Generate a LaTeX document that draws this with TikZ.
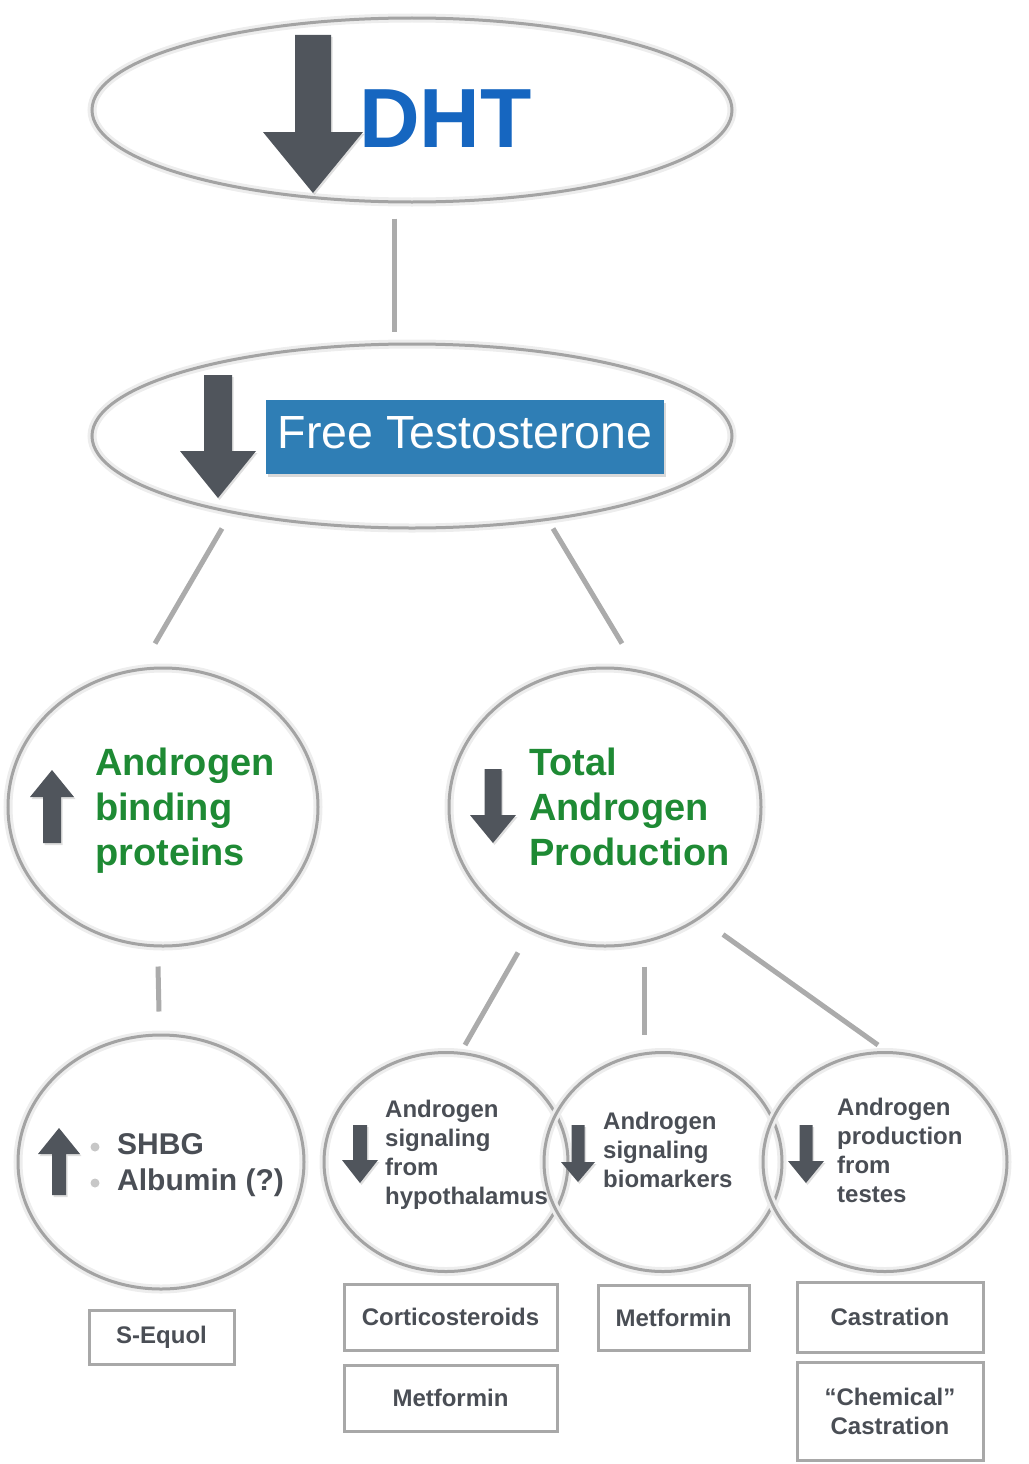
\documentclass[tikz,border=0pt]{standalone}
\usepackage{fontspec}
\setmainfont{Liberation Sans}
\usepackage{tikz}
\usetikzlibrary{shapes.geometric, shadows, positioning}

\definecolor{arrowgray}{RGB}{80,85,92}
\definecolor{txtgray}{RGB}{74,78,85}
\definecolor{apgreen}{RGB}{30,138,52}
\definecolor{dhtblue}{RGB}{22,102,192}
\definecolor{ftblue}{RGB}{47,126,181}
\definecolor{ringgray}{RGB}{163,163,163}
\definecolor{linkgray}{RGB}{171,171,171}
\definecolor{boxgray}{RGB}{168,168,168}

\tikzset{
  bubble/.style={ellipse, draw=ringgray, line width=3pt, inner sep=0pt,
    preaction={draw=black!7, line width=9pt}},
  link/.style={draw=linkgray, line width=5pt},
  drugbox/.style={rectangle, draw=boxgray, line width=3pt, inner sep=0pt,
    font=\fontsize{24}{29}\selectfont\bfseries, text=txtgray, align=center},
  greentext/.style={font=\fontsize{38}{45}\selectfont\bfseries, text=apgreen,
    align=left, inner sep=0pt, anchor=north west},
  graytext/.style={font=\fontsize{24}{29}\selectfont\bfseries, text=txtgray,
    align=left, inner sep=0pt, anchor=north west},
  arrowshadow/.style={drop shadow={opacity=0.25, shadow xshift=1.5pt, shadow yshift=-2pt}}
}

% x, tail y, head base y, tip y, half shaft, half head
\newcommand{\blockarrow}[6]{%
  \fill[arrowgray, arrowshadow] (#1-#5,#2) -- (#1+#5,#2) -- (#1+#5,#3) -- (#1+#6,#3)
    -- (#1,#4) -- (#1-#6,#3) -- (#1-#5,#3) -- cycle;}

\begin{document}
\begin{tikzpicture}[x=1pt,y=-1pt]
            \useasboundingbox (0,0) rectangle (1028,1464);
            % circles and ellipses
            \node[bubble, minimum width=640pt, minimum height=184pt] (dht) at (412,110) {};
            \node[bubble, minimum width=640pt, minimum height=184pt] (ft) at (412,436) {};
            \node[bubble, minimum width=310pt, minimum height=278pt] (apb) at (163,807) {};
            \node[bubble, minimum width=312pt, minimum height=278pt] (tap) at (605,807) {};
            \node[bubble, minimum width=286pt, minimum height=254pt] (shbg) at (161,1162) {};
            \node[bubble, minimum width=244pt, minimum height=219pt] (hyp) at (446,1162) {};
            \node[bubble, minimum width=238pt, minimum height=219pt] (bio) at (663,1162) {};
            \node[bubble, minimum width=244pt, minimum height=219pt] (tes) at (885,1162) {};

            % connectors
            \draw[link] ([shift={(-18,15)}]dht.south) -- ([shift={(-18,-11)}]ft.north);
            \draw[link] ([shift={(-190,-1)}]ft.south) -- ([shift={(-8,-23)}]apb.north);
            \draw[link] ([shift={(141,-1)}]ft.south) -- ([shift={(17,-23)}]tap.north);
            \draw[link] ([shift={(-5,19)}]apb.south) -- ([shift={(-2,-22)}]shbg.north);
            \draw[link] ([shift={(-87,5)}]tap.south) -- ([shift={(19,-6)}]hyp.north);
            \draw[link] ([shift={(39,19)}]tap.south) -- ([shift={(-19,-16)}]bio.north);
            \draw[link] ([shift={(118,-13)}]tap.south) -- ([shift={(-7,-6)}]tes.north);

            % arrows
            \blockarrow{313}{35}{132}{193}{18}{50}
            \blockarrow{218}{375}{451}{498}{14}{38}
            \blockarrow{52}{843}{797}{770}{9}{22}
            \blockarrow{493}{769}{815}{843}{8.5}{23}
            \blockarrow{59}{1195}{1154}{1128}{7}{21}
            \blockarrow{360}{1125}{1160}{1183}{7}{18}
            \blockarrow{578}{1125}{1162}{1182}{6.5}{17}
            \blockarrow{806}{1125}{1161}{1183}{6.5}{18}

            % labels
            \node[font=\fontsize{84}{84}\selectfont\bfseries, text=dhtblue, inner sep=0pt,
              anchor=base west] (dhttext) at (359,147) {DHT};
            \node[fill=ftblue, text=white, minimum width=398pt, minimum height=74pt, inner sep=0pt,
              font=\fontsize{46.5}{50}\selectfont, text height=33.5pt, text depth=11.5pt,
              drop shadow={opacity=0.3, shadow xshift=2pt, shadow yshift=-3pt}]
              (fttext) at (465,437) {Free Testosterone};
            \node[greentext] (apbtext) at (95,748) {Androgen\\binding\\proteins};
            \node[greentext] (taptext) at (529,748) {Total\\Androgen\\Production};
            \fill[black!22] (95,1147) circle (4.5);
            \fill[black!22] (95,1183) circle (4.5);
            \node[graytext, font=\fontsize{30}{36}\selectfont\bfseries] (shbgtext) at (117,1133)
              {SHBG\\Albumin (?)};
            \node[graytext] (hyptext) at (385,1100) {Androgen\\signaling\\from\\hypothalamus};
            \node[graytext] (biotext) at (603,1112) {Androgen\\signaling\\biomarkers};
            \node[graytext] (testext) at (837,1098) {Androgen\\production\\from\\testes};

            % therapies
            \node[drugbox, minimum width=145pt, minimum height=54pt] (sequol) at (161.5,1337) {S-Equol};
            \node[drugbox, minimum width=213pt, minimum height=66pt] (cortico) at (450.5,1317) {Corticosteroids};
            \node[drugbox, minimum width=213pt, minimum height=66pt] (metfa) at (450.5,1398) {Metformin};
            \node[drugbox, minimum width=151pt, minimum height=65pt] (metfb) at (673.5,1317.5) {Metformin};
            \node[drugbox, minimum width=186pt, minimum height=70pt] (castr) at (890,1317) {Castration};
            \node[drugbox, minimum width=186pt, minimum height=98pt] (chemcastr) at (890,1411)
              {“Chemical”\\Castration};
        \end{tikzpicture}
\end{document}
